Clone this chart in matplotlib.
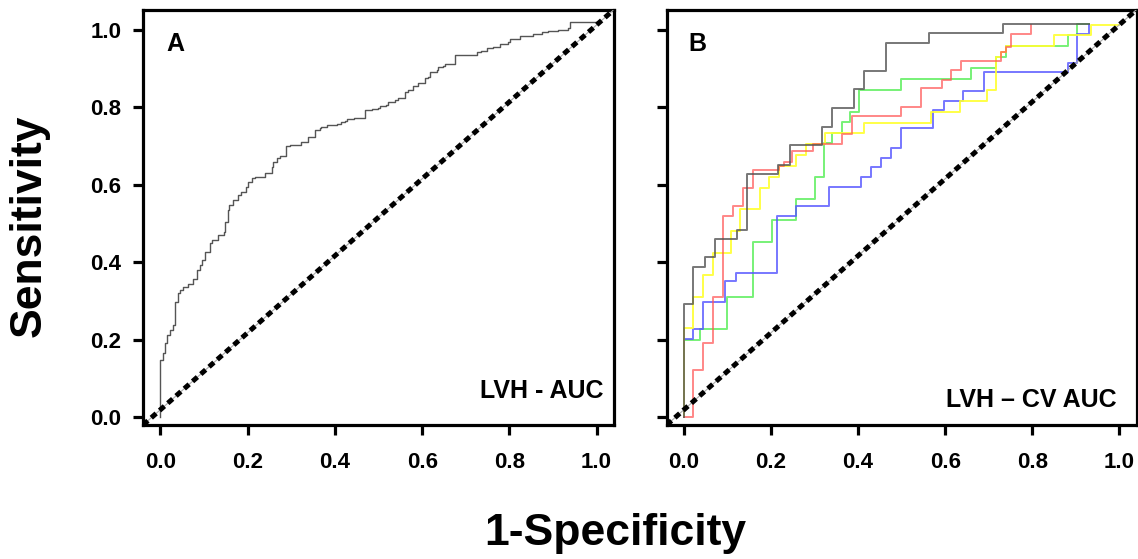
import numpy as np
import matplotlib
matplotlib.use("Agg")
import matplotlib.pyplot as plt

plt.rcParams['font.family'] = ['Liberation Sans', 'DejaVu Sans']
plt.rcParams['font.weight'] = 'bold'

# panel A: overall ROC (step vertices, y changes at x)
a_fpr = [0, 0, 0.006, 0.011, 0.016, 0.021, 0.029, 0.034, 0.039, 0.044, 0.052, 0.063, 0.075, 0.083,
         0.090, 0.096, 0.103, 0.113, 0.117, 0.132, 0.146, 0.149, 0.154, 0.157, 0.167, 0.177, 0.184,
         0.195, 0.200, 0.210, 0.216, 0.239, 0.255, 0.258, 0.266, 0.274, 0.287, 0.297, 0.323, 0.339,
         0.354, 0.365, 0.369, 0.381, 0.404, 0.415, 0.424, 0.427, 0.443, 0.469, 0.484, 0.499, 0.503,
         0.518, 0.522, 0.537, 0.545, 0.560, 0.568, 0.580, 0.591, 0.606, 0.614, 0.618, 0.633, 0.637,
         0.648, 0.652, 0.675, 0.725, 0.736, 0.748, 0.763, 0.778, 0.797, 0.801, 0.824, 0.855, 0.874,
         0.889, 0.912, 0.935, 0.939, 1.0]
a_tpr = [0, 0.147, 0.166, 0.190, 0.212, 0.225, 0.238, 0.298, 0.320, 0.328, 0.335, 0.344, 0.356, 0.380,
         0.393, 0.406, 0.427, 0.450, 0.457, 0.470, 0.479, 0.505, 0.535, 0.548, 0.561, 0.574, 0.582,
         0.595, 0.608, 0.617, 0.621, 0.630, 0.647, 0.660, 0.668, 0.674, 0.700, 0.703, 0.711, 0.724,
         0.742, 0.746, 0.750, 0.755, 0.757, 0.763, 0.766, 0.769, 0.772, 0.793, 0.796, 0.798, 0.804,
         0.806, 0.815, 0.819, 0.823, 0.841, 0.845, 0.854, 0.862, 0.875, 0.879, 0.892, 0.897, 0.905,
         0.908, 0.911, 0.935, 0.942, 0.946, 0.953, 0.957, 0.963, 0.970, 0.977, 0.985, 0.989, 0.994,
         0.997, 1.000, 1.006, 1.020, 1.020]

# panel B: cross-validation folds
grey_fpr = [0, 0, 0.021, 0.048, 0.071, 0.121, 0.145, 0.216, 0.243, 0.317, 0.341, 0.390, 0.414, 0.463,
            0.563, 0.732, 0.931]
grey_tpr = [0, 0.292, 0.388, 0.412, 0.459, 0.483, 0.628, 0.651, 0.703, 0.749, 0.798, 0.847, 0.894, 0.966,
            0.991, 1.015, 1.015]

red_fpr = [0, 0.021, 0.044, 0.067, 0.090, 0.112, 0.135, 0.159, 0.218, 0.229, 0.249, 0.297, 0.364, 0.387,
           0.499, 0.545, 0.593, 0.614, 0.637, 0.729, 0.740, 0.752, 0.797]
red_tpr = [0, 0.120, 0.190, 0.309, 0.519, 0.544, 0.591, 0.637, 0.649, 0.660, 0.686, 0.705, 0.731, 0.779,
           0.802, 0.849, 0.871, 0.897, 0.920, 0.944, 0.957, 0.989, 1.013]

yellow_fpr = [0, 0, 0.020, 0.043, 0.066, 0.109, 0.128, 0.174, 0.196, 0.218, 0.258, 0.281, 0.325, 0.414,
              0.568, 0.633, 0.697, 0.717, 0.729, 0.740, 0.851, 0.935, 1.0]
yellow_tpr = [0, 0.229, 0.311, 0.367, 0.423, 0.481, 0.537, 0.591, 0.621, 0.649, 0.677, 0.705, 0.733, 0.759,
              0.789, 0.817, 0.845, 0.929, 0.944, 0.959, 0.986, 1.013, 1.013]

green_fpr = [0, 0, 0.037, 0.098, 0.159, 0.201, 0.258, 0.301, 0.321, 0.339, 0.362, 0.381, 0.401, 0.499,
             0.660, 0.717, 0.740, 0.882, 0.902, 0.931]
green_tpr = [0, 0.199, 0.227, 0.311, 0.453, 0.509, 0.562, 0.621, 0.707, 0.733, 0.763, 0.789, 0.845, 0.873,
             0.901, 0.931, 0.959, 0.987, 1.015, 1.015]

blue_fpr = [0, 0, 0.021, 0.044, 0.094, 0.119, 0.213, 0.258, 0.333, 0.406, 0.430, 0.453, 0.476, 0.499,
            0.572, 0.597, 0.642, 0.690, 0.882, 0.904, 0.931]
blue_tpr = [0, 0.201, 0.227, 0.298, 0.350, 0.373, 0.518, 0.544, 0.595, 0.621, 0.647, 0.668, 0.694, 0.746,
            0.793, 0.817, 0.843, 0.891, 0.914, 0.990, 1.013]

ticks = [0.0, 0.2, 0.4, 0.6, 0.8, 1.0]
tick_labels = ["0.0", "0.2", "0.4", "0.6", "0.8", "1.0"]


def style_axes(ax, show_ylabels):
    ax.set_xlim(-0.04, 1.04)
    ax.set_ylim(-0.021, 1.053)
    for s in ax.spines.values():
        s.set_linewidth(2.3)
    ax.set_xticks(ticks)
    ax.set_yticks(ticks)
    ax.set_xticklabels(tick_labels, fontsize=16, fontweight='bold')
    if show_ylabels:
        ax.set_yticklabels(tick_labels, fontsize=16, fontweight='bold')
    else:
        ax.set_yticklabels([])
    ax.tick_params(axis='both', direction='out', length=7.5, width=2.3)
    ax.tick_params(axis='x', pad=12)
    ax.tick_params(axis='y', pad=8)


def chance_line(ax):
    ax.plot([0, 1], [0, 1], transform=ax.transAxes, color='#aaaaaa', lw=0.8, zorder=4)
    ax.plot([0, 1], [0, 1], transform=ax.transAxes, color='black', lw=3.6,
            linestyle=(0, (1.3, 0.9)), zorder=5)


fig = plt.figure(figsize=(11.38, 5.59), dpi=100)
ax_a = fig.add_axes([0.1257, 0.2397, 0.4139, 0.7433])
ax_b = fig.add_axes([0.5858, 0.2397, 0.4130, 0.7433])

# panel A
ax_a.plot(a_fpr, a_tpr, drawstyle='steps-post', color='#555555', lw=1.0, zorder=3)
chance_line(ax_a)
style_axes(ax_a, True)
ax_a.text(0.049, 0.945, "A", transform=ax_a.transAxes, fontsize=18, fontweight='bold', va='top', ha='left')
ax_a.text(0.977, 0.065, "LVH - AUC", transform=ax_a.transAxes, fontsize=18, fontweight='bold',
          va='baseline', ha='right')

# panel B
lw = 1.4
ax_b.plot(green_fpr, green_tpr, drawstyle='steps-post', color='#55ee55', lw=lw, alpha=0.8, zorder=2)
ax_b.plot(blue_fpr, blue_tpr, drawstyle='steps-post', color='#5555ff', lw=lw, alpha=0.8, zorder=2)
ax_b.plot(yellow_fpr, yellow_tpr, drawstyle='steps-post', color='#ffff33', lw=lw, alpha=0.9, zorder=2)
ax_b.plot(red_fpr, red_tpr, drawstyle='steps-post', color='#ff5555', lw=lw, alpha=0.7, zorder=2)
ax_b.plot(grey_fpr, grey_tpr, drawstyle='steps-post', color='#555555', lw=lw, alpha=0.8, zorder=3)
chance_line(ax_b)
style_axes(ax_b, False)
ax_b.text(0.047, 0.945, "B", transform=ax_b.transAxes, fontsize=18, fontweight='bold', va='top', ha='left')
ax_b.text(0.958, 0.043, "LVH \u2013 CV AUC", transform=ax_b.transAxes, fontsize=18, fontweight='bold',
          va='baseline', ha='right')

fig.text(0.026, 0.597, "Sensitivity", rotation=90, fontsize=32, fontweight='bold', ha='center', va='center')
fig.text(0.541, 0.025, "1-Specificity", fontsize=32, fontweight='bold', ha='center', va='baseline')

fig.savefig("out.png", dpi=100)
